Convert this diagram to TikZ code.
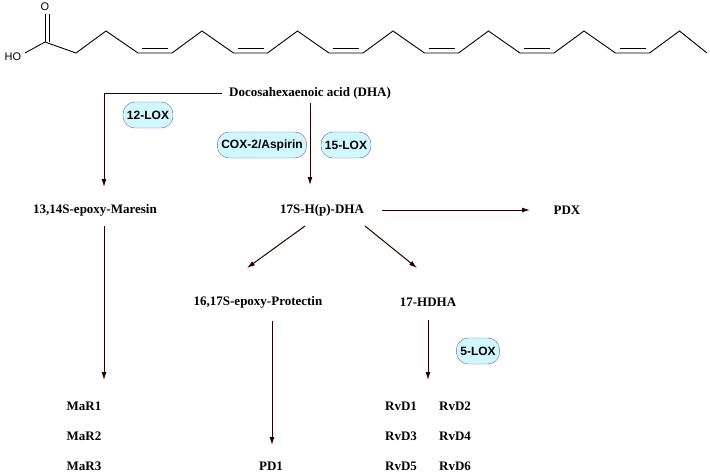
\documentclass[tikz,border=0pt]{standalone}
\usepackage{fontspec}
\usetikzlibrary{arrows.meta}
\setmainfont{Liberation Serif}
\newfontfamily\arialf{Liberation Sans}
\begin{document}
\begin{tikzpicture}[x=1pt,y=-1pt,
  lbl/.style={font=\fontsize{13}{15}\selectfont\bfseries, inner sep=1pt},
  enz/.style={font=\arialf\fontsize{12}{14}\selectfont\bfseries, draw=black!60!blue!60, fill=blue!15!cyan!18, rounded corners=12pt, minimum height=26pt, inner xsep=4pt},
  arr/.style={draw=black!85!red, line width=1pt, -{Latex[length=8pt,width=5pt]}},
  bond/.style={line width=0.9pt}]
\useasboundingbox (0,0) rectangle (710,475);
% DHA skeleton
\node[font=\arialf\fontsize{11}{12}\selectfont, inner sep=0pt] (ho) at (13,57) {HO};
\node[font=\arialf\fontsize{11}{12}\selectfont, inner sep=0pt] (ox) at (45,7) {O};
\draw[bond] (45,42) -- (45,14);
\draw[bond] (49,42) -- (49,14);
\draw[bond] (25,53) -- (45,42) -- (76,53) -- (106,31)
  \foreach \i in {0,...,5} { -- (138+95.5*\i,53) -- (172+95.5*\i,53) -- (202+95.5*\i,31) } -- (707,53);
\foreach \i in {0,...,5} \draw[bond] (142+95.5*\i,48.5) -- (168+95.5*\i,48.5);
% nodes
\node[lbl] (dha) at (310,93) {Docosahexaenoic acid (DHA)};
\node[enz] (e12) at (148,115) {12-LOX};
\node[enz] (ecox) at (262,145) {COX-2/Aspirin};
\node[enz] (e15) at (346,145) {15-LOX};
\node[lbl] (mar) at (95,210) {13,14S-epoxy-Maresin};
\node[lbl] (h17) at (322,210) {17S-H(p)-DHA};
\node[lbl] (pdx) at (567,210) {PDX};
\node[lbl] (prot) at (258,302) {16,17S-epoxy-Protectin};
\node[lbl] (hdha) at (428,302) {17-HDHA};
\node[enz] (e5) at (478,351) {5-LOX};
\node[lbl] (m1) at (84,406) {MaR1};
\node[lbl] (m2) at (84,436) {MaR2};
\node[lbl] (m3) at (84,466) {MaR3};
\node[lbl] (pd1) at (271,466) {PD1};
\node[lbl] (r1) at (401,406) {RvD1};
\node[lbl] (r2) at (455,406) {RvD2};
\node[lbl] (r3) at (401,436) {RvD3};
\node[lbl] (r4) at (455,436) {RvD4};
\node[lbl] (r5) at (401,466) {RvD5};
\node[lbl] (r6) at (455,466) {RvD6};
% arrows
\coordinate (c1) at (104,93);
\draw[arr] ([xshift=-6pt]dha.west) -- (c1) -- (104,187);
\draw[arr] (310,103) -- (310,185);
\draw[arr] (382,210) -- (530,210);
\draw[arr] (305,226) -- (247,268);
\draw[arr] (365,226) -- (417,268);
\draw[arr] (104,226) -- (104,380);
\draw[arr] (272,321) -- (272,445);
\draw[arr] (428,320) -- (428,380);
\end{tikzpicture}
\end{document}
